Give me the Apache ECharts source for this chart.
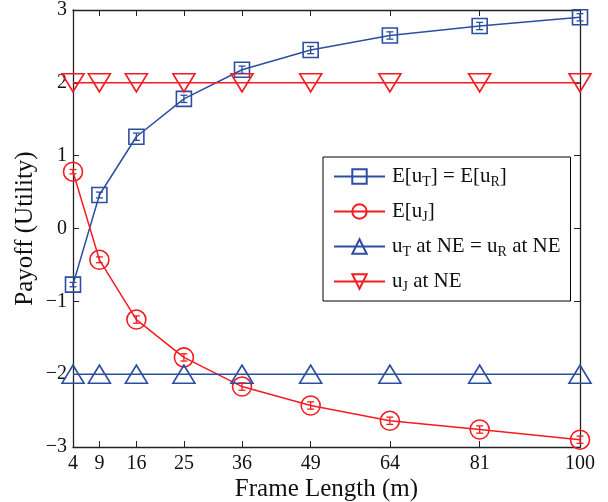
<!DOCTYPE html>
<html><head><meta charset="utf-8">
<script src="https://cdn.jsdelivr.net/npm/echarts@6/dist/echarts.min.js"></script>
<style>html,body{margin:0;padding:0;background:#fff}#c{width:608px;height:502px}</style>
</head><body><div id="c"></div>
<script>
const frameLengths = [4, 9, 16, 25, 36, 49, 64, 81, 100];
const expUT = [-0.77, 0.46, 1.26, 1.78, 2.18, 2.45, 2.65, 2.78, 2.90];
const expUJ = [0.78, -0.43, -1.25, -1.77, -2.17, -2.43, -2.64, -2.76, -2.90];
const errUT = [0.03, 0.04, 0.05, 0.05, 0.05, 0.05, 0.05, 0.05, 0.05];
const errUJ = [0.03, 0.04, 0.05, 0.05, 0.05, 0.05, 0.05, 0.05, 0.05];
const neUT = [-2, -2, -2, -2, -2, -2, -2, -2, -2];
const neUJ = [2, 2, 2, 2, 2, 2, 2, 2, 2];
const yTicks = [-3, -2, -1, 0, 1, 2, 3];

const BLUE = '#2C4EA2', RED = '#F41B21';
const FONT = '"Liberation Serif", "Times New Roman", serif';
const pair = (ys) => frameLengths.map((x, i) => [x, ys[i]]);
const errData = (ys, es) => frameLengths.map((x, i) => [x, ys[i] - es[i], ys[i] + es[i]]);

function errRender(color) {
  return function (params, api) {
    const lo = api.coord([api.value(0), api.value(1)]);
    const hi = api.coord([api.value(0), api.value(2)]);
    const w = 3.5;
    const st = { stroke: color, lineWidth: 1.3 };
    return { type: 'group', children: [
      { type: 'line', shape: { x1: lo[0], y1: lo[1], x2: hi[0], y2: hi[1] }, style: st },
      { type: 'line', shape: { x1: lo[0] - w, y1: lo[1], x2: lo[0] + w, y2: lo[1] }, style: st },
      { type: 'line', shape: { x1: hi[0] - w, y1: hi[1], x2: hi[0] + w, y2: hi[1] }, style: st }
    ]};
  };
}

const names = ['ET', 'EJ', 'NT', 'NJ'];
const legendText = {
  ET: '{n|E[u}{s|T}{n|] = E[u}{s|R}{n|]}',
  EJ: '{n|E[u}{s|J}{n|]}',
  NT: '{n|u}{s|T}{n| at NE = u}{s|R}{n| at NE}',
  NJ: '{n|u}{s|J}{n| at NE}'
};

const invTri = 'path://M0,0 L20,0 L10,17 Z';
const mk = (name, data, color, symbol, size) => ({
  name, type: 'line', data, symbol, symbolSize: size, showSymbol: true,
  lineStyle: { color, width: 1.5 },
  itemStyle: { color: 'rgba(255,255,255,0)', borderColor: color, borderWidth: 1.6 },
  emphasis: { disabled: true }, z: 3
});

const axisLine = { show: true, onZero: false, lineStyle: { color: '#222', width: 1.3 } };
const tickStyle = { color: '#222', width: 1 };

const chart = echarts.init(document.getElementById('c'));
chart.setOption({
  animation: false,
  backgroundColor: '#fff',
  grid: { left: 73, right: 28, top: 10, bottom: 55, containLabel: false, outerBoundsMode: 'none' },
  legend: {
    data: names, orient: 'vertical', left: 323, top: 157,
    itemWidth: 51, itemHeight: 18, itemGap: 10,
    padding: [7, 10, 7, 10],
    borderColor: '#000', borderWidth: 1, backgroundColor: '#fff',
    formatter: (n) => legendText[n],
    textStyle: {
      color: '#111', fontFamily: FONT, padding: [0, 0, 0, 2],
      rich: {
        n: { fontSize: 21, fontFamily: FONT, color: '#111', lineHeight: 22 },
        s: { fontSize: 14, fontFamily: FONT, color: '#111', lineHeight: 14, padding: [11, 0, 0, 0] }
      }
    }
  },
  xAxis: [{
    type: 'value', min: 4, max: 100, position: 'bottom',
    name: 'Frame Length (m)', nameLocation: 'middle', nameGap: 30, nameMoveOverlap: false,
    nameTextStyle: { fontFamily: FONT, fontSize: 25, color: '#111' },
    axisLine,
    axisTick: { inside: true, length: 6, customValues: frameLengths, lineStyle: tickStyle },
    axisLabel: { customValues: frameLengths, fontFamily: FONT, fontSize: 20, color: '#111', margin: 7 },
    splitLine: { show: false }
  }, {
    type: 'value', min: 4, max: 100, position: 'top',
    axisLine,
    axisTick: { inside: true, length: 6, customValues: frameLengths, lineStyle: tickStyle },
    axisLabel: { show: false }, splitLine: { show: false }
  }],
  yAxis: [{
    type: 'value', min: -3, max: 3, interval: 1, position: 'left',
    name: 'Payoff (Utility)', nameLocation: 'middle', nameGap: 35, nameMoveOverlap: false,
    nameTextStyle: { fontFamily: FONT, fontSize: 25, color: '#111' },
    axisLine,
    axisTick: { show: true, inside: true, length: 6, lineStyle: tickStyle },
    axisLabel: { fontFamily: FONT, fontSize: 20, color: '#111', margin: 6,
      formatter: (v) => (v < 0 ? '\u2212' + Math.abs(v) : String(v)) },
    splitLine: { show: false }
  }, {
    type: 'value', min: -3, max: 3, interval: 1, position: 'right',
    axisLine,
    axisTick: { show: true, inside: true, length: 6, lineStyle: tickStyle },
    axisLabel: { show: false }, splitLine: { show: false }
  }],
  series: [
    mk('ET', pair(expUT), BLUE, 'rect', 15),
    mk('EJ', pair(expUJ), RED, 'circle', 19),
    mk('NT', pair(neUT), BLUE, 'triangle', [22, 18]),
    mk('NJ', pair(neUJ), RED, invTri, [22, 18]),
    { type: 'custom', renderItem: errRender(BLUE), data: errData(expUT, errUT), z: 4, silent: true },
    { type: 'custom', renderItem: errRender(RED), data: errData(expUJ, errUJ), z: 4, silent: true }
  ]
});
</script></body></html>
